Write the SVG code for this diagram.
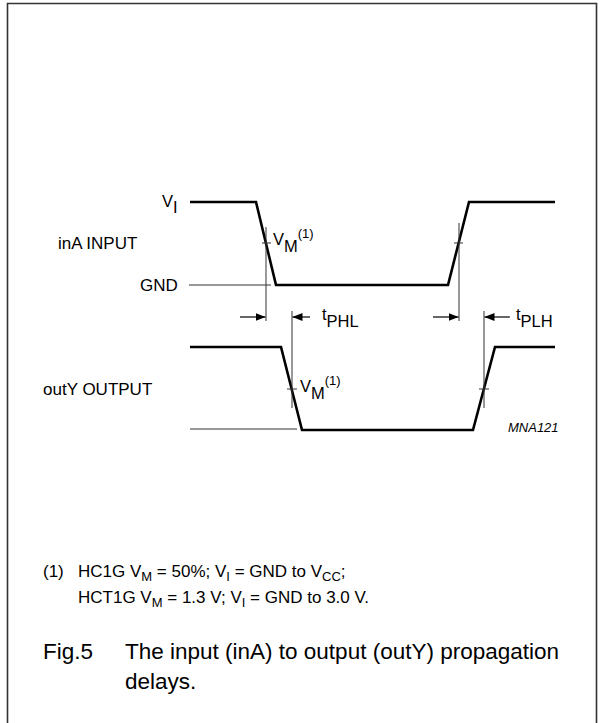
<svg xmlns="http://www.w3.org/2000/svg" width="603" height="723" viewBox="0 0 603 723">
<defs>
<style>
.t{font-family:"Liberation Sans",Arial,sans-serif;fill:#000}
.lbl{font-size:17px}
.sym{font-size:16.5px}
.sup{font-size:13px}
.fn{font-size:17px}
.sub{font-size:13px}
.cap{font-size:22.5px}
.wave{fill:none;stroke:#000;stroke-width:2.6;stroke-linejoin:miter}
.thin{fill:none;stroke:#333;stroke-width:1}
.dim{fill:none;stroke:#000;stroke-width:1.2}
</style>
<marker id="ah" viewBox="0 0 10 8" refX="10" refY="4" markerWidth="10" markerHeight="8" markerUnits="userSpaceOnUse" orient="auto">
<path d="M0,0 L10,4 L0,8 z" fill="#000"/>
</marker>
</defs>
<rect x="0" y="0" width="603" height="723" fill="#fff"/>
<path d="M7.5,730 V3.5 H596.5 V730" fill="none" stroke="#333" stroke-width="1.6"/>

<g id="input-wave">
<path class="wave" d="M190,202 H256 L276,285 H448 L469,202 H555"/>
</g>
<g id="output-wave">
<path class="wave" d="M190,347 H281 L302,430 H473 L495,347 H555"/>
</g>

<g id="connectors">
<line class="thin" x1="189" y1="285" x2="271" y2="285"/>
<line class="thin" x1="190" y1="429" x2="297" y2="429"/>
<line class="thin" x1="266" y1="227" x2="266" y2="321"/>
<line class="thin" x1="459" y1="223" x2="459" y2="321"/>
<line class="thin" x1="292" y1="311" x2="292" y2="408"/>
<line class="thin" x1="484" y1="311" x2="484" y2="408"/>
<line class="thin" x1="262" y1="243" x2="271" y2="243"/>
<line class="thin" x1="454" y1="243" x2="463" y2="243"/>
<line class="thin" x1="287" y1="389" x2="297" y2="389"/>
<line class="thin" x1="479" y1="389" x2="489" y2="389"/>
<line class="dim" x1="240" y1="317" x2="265.5" y2="317" marker-end="url(#ah)"/>
<line class="dim" x1="310" y1="317" x2="292.5" y2="317" marker-end="url(#ah)"/>
<line class="dim" x1="433" y1="317" x2="458.5" y2="317" marker-end="url(#ah)"/>
<line class="dim" x1="510" y1="317" x2="484.5" y2="317" marker-end="url(#ah)"/>
</g>

<g id="labels">
<text class="t sym" x="162" y="207">V<tspan dy="6">I</tspan></text>
<text class="t lbl" x="58" y="249">inA INPUT</text>
<text class="t lbl" x="140" y="291">GND</text>
<text class="t sym" x="273" y="245">V<tspan dy="7">M</tspan><tspan class="sup" dy="-14">(1)</tspan></text>
<text class="t lbl" x="43" y="395">outY OUTPUT</text>
<text class="t sym" x="300" y="392">V<tspan dy="7">M</tspan><tspan class="sup" dy="-14">(1)</tspan></text>
<text class="t sym" x="322" y="320">t<tspan dy="7">PHL</tspan></text>
<text class="t sym" x="516" y="320">t<tspan dy="7">PLH</tspan></text>
<text class="t" x="508" y="432" font-size="13" font-style="italic">MNA121</text>
</g>

<g id="footnote">
<text class="t fn" x="43" y="577">(1)</text>
<text class="t fn" x="78" y="577">HC1G V<tspan class="sub" dy="4">M</tspan><tspan dy="-4"> = 50%; V</tspan><tspan class="sub" dy="4">I</tspan><tspan dy="-4"> = GND to V</tspan><tspan class="sub" dy="4">CC</tspan><tspan dy="-4">;</tspan></text>
<text class="t fn" x="78" y="603">HCT1G V<tspan class="sub" dy="4">M</tspan><tspan dy="-4"> = 1.3 V; V</tspan><tspan class="sub" dy="4">I</tspan><tspan dy="-4"> = GND to 3.0 V.</tspan></text>
</g>

<g id="caption">
<text class="t cap" x="43" y="659">Fig.5</text>
<text class="t cap" x="125" y="659">The input (inA) to output (outY) propagation</text>
<text class="t cap" x="125" y="689">delays.</text>
</g>
</svg>
